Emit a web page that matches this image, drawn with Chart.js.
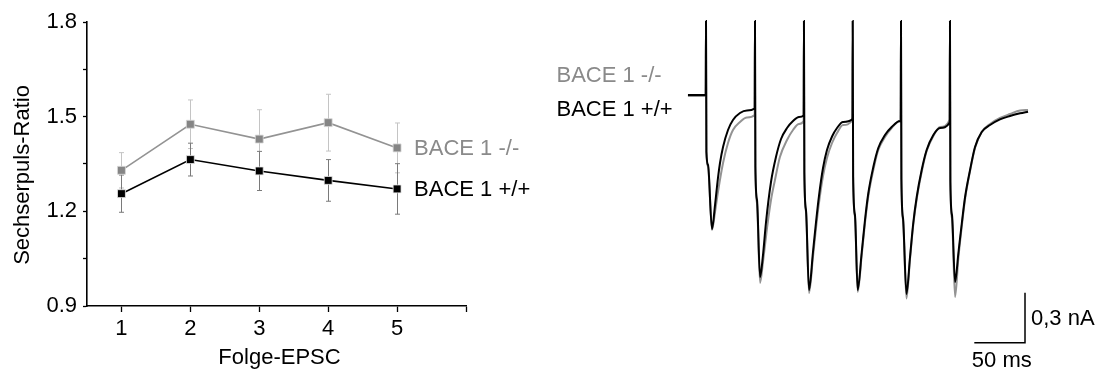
<!DOCTYPE html>
<html><head><meta charset="utf-8">
<script src="https://cdn.jsdelivr.net/npm/chart.js@4.4.1/dist/chart.umd.min.js"></script>
<style>
html,body{margin:0;padding:0;background:#fff;overflow:hidden}
#wrap{position:relative;width:1100px;height:371px}
#c1{position:absolute;left:0;top:0}
#c2{position:absolute;left:540px;top:0}
</style></head><body>
<div id="wrap"><canvas id="c1" width="540" height="371"></canvas><canvas id="c2" width="560" height="371"></canvas></div>
<script>
// ---------- left panel data ----------
const pulseNumbers = [1, 2, 3, 4, 5];
const koMean = [1.330, 1.476, 1.429, 1.481, 1.401];
const koErr  = [0.056, 0.077, 0.093, 0.090, 0.079];
const wtMean = [1.256, 1.364, 1.328, 1.298, 1.271];
const wtErr  = [0.059, 0.052, 0.062, 0.066, 0.080];
const yTickLabels = ['0.9', '1.2', '1.5', '1.8'];
const xTickLabels = ['1', '2', '3', '4', '5'];
const koLabel = 'BACE 1 -/-';
const wtLabel = 'BACE 1 +/+';
const xTitle = 'Folge-EPSC';
const yTitle = 'Sechserpuls-Ratio';

// ---------- right panel data (time in ms, current in nA) ----------
const wtTime = [-17.8, -0.3, 0, 0.4, 2.0, 5.9, 8.9, 11.8, 13.8, 16.8, 21.7, 26.6, 33.5, 40.4, 48.0,
 48.3, 48.7, 50.3, 53.3, 56.2, 59.2, 64.1, 69.0, 74.0, 79.9, 85.8, 91.7, 96.3,
 96.6, 97.0, 98.6, 101.6, 105.5, 108.5, 111.4, 115.4, 119.3, 124.3, 129.2, 135.1, 144.4,
 144.7, 145.1, 146.9, 149.6, 153.5, 156.8, 160.1, 165.0, 169.9, 176.5, 183.1, 191.3, 192.0,
 192.3, 192.7, 194.3, 197.7, 201.2, 204.4, 207.8, 212.7, 217.6, 224.2, 230.8, 240.3,
 240.6, 241.0, 242.6, 245.6, 248.9, 252.3, 255.5, 260.4, 265.3, 271.9, 280.1, 289.9, 299.8, 309.7, 317.6];
const wtCurrent = [0, 0, 0.444, -0.342, -0.42, -0.804, -0.66, -0.498, -0.408, -0.312, -0.21, -0.15, -0.108, -0.093, -0.081,
 0.444, -0.432, -0.63, -1.092, -0.96, -0.762, -0.522, -0.372, -0.264, -0.198, -0.156, -0.132, -0.123,
 0.444, -0.468, -0.69, -1.17, -0.942, -0.762, -0.606, -0.438, -0.33, -0.249, -0.198, -0.162, -0.144,
 0.444, -0.492, -0.72, -1.17, -0.948, -0.75, -0.588, -0.432, -0.318, -0.24, -0.192, -0.156, -0.16,
 0.444, -0.504, -0.738, -1.194, -0.972, -0.768, -0.612, -0.45, -0.33, -0.24, -0.198, -0.165,
 0.444, -0.522, -0.72, -1.122, -0.948, -0.768, -0.612, -0.45, -0.312, -0.222, -0.18, -0.146, -0.126, -0.11, -0.1];
const koTime = [-17.8, -0.3, 0, 0.4, 2.0, 5.9, 8.9, 11.8, 16.8, 21.7, 26.6, 33.5, 40.4, 48.0,
 48.3, 48.7, 50.3, 53.3, 56.2, 60.2, 64.1, 68.0, 72.9, 79.9, 85.8, 91.7, 96.3,
 96.6, 97.0, 98.6, 101.6, 105.5, 108.5, 111.4, 115.4, 119.3, 124.3, 129.2, 135.1, 144.4,
 144.7, 145.1, 146.9, 149.6, 153.5, 156.8, 160.1, 165.0, 169.9, 176.5, 183.1, 191.3, 192.0,
 192.3, 192.7, 194.3, 197.7, 201.2, 204.4, 207.8, 212.7, 217.6, 224.2, 230.8, 240.3,
 240.6, 241.0, 242.6, 245.6, 248.9, 252.3, 255.5, 260.4, 265.3, 271.9, 280.1, 289.9, 299.8, 309.7, 317.6];
const koCurrent = [-0.006, -0.006, 0.444, -0.342, -0.43, -0.81, -0.702, -0.582, -0.408, -0.288, -0.21, -0.162, -0.135, -0.12,
 0.444, -0.432, -0.65, -1.128, -1.002, -0.798, -0.63, -0.51, -0.372, -0.27, -0.21, -0.174, -0.156,
 0.444, -0.468, -0.70, -1.188, -0.972, -0.798, -0.648, -0.486, -0.378, -0.288, -0.228, -0.18, -0.15,
 0.444, -0.492, -0.73, -1.182, -0.966, -0.768, -0.606, -0.45, -0.33, -0.252, -0.198, -0.156, -0.156,
 0.444, -0.504, -0.75, -1.221, -0.984, -0.78, -0.624, -0.462, -0.336, -0.246, -0.192, -0.15,
 0.444, -0.522, -0.74, -1.212, -0.978, -0.786, -0.624, -0.456, -0.318, -0.222, -0.174, -0.138, -0.114, -0.093, -0.09];
const scaleBarTime = [264.6, 314.6, 314.6];
const scaleBarCurrent = [-1.486, -1.486, -1.186];
const scaleBarTimeLabel = '50 ms';
const scaleBarCurrentLabel = '0,3 nA';

// ---------- styling ----------
const FONT = "'Liberation Sans', Arial, Helvetica, sans-serif";
const GRAY = '#8a8a8a';
Chart.defaults.font.family = FONT;
Chart.defaults.color = '#000';

const zip = (xs, ys) => xs.map((x, i) => ({x, y: ys[i]}));

const errPlugin = {
  id: 'errbars',
  beforeDatasetsDraw(chart) {
    const {ctx, scales: {x, y}} = chart;
    [...chart.data.datasets].reverse().forEach((ds) => {
      if (!ds.err) return;
      ctx.save();
      ctx.strokeStyle = ds.errColor;
      ctx.lineWidth = 1;
      ds.data.forEach((p, j) => {
        const px = Math.round(x.getPixelForValue(p.x)) + 0.5;
        const y1 = y.getPixelForValue(p.y + ds.err[j]);
        const y2 = y.getPixelForValue(p.y - ds.err[j]);
        ctx.beginPath();
        ctx.moveTo(px, y1); ctx.lineTo(px, y2);
        ctx.moveTo(px - 2.5, y1); ctx.lineTo(px + 2.5, y1);
        ctx.moveTo(px - 2.5, y2); ctx.lineTo(px + 2.5, y2);
        ctx.stroke();
      });
      ctx.restore();
    });
  },
  afterDatasetsDraw(chart) {
    const {ctx} = chart;
    ctx.save();
    ctx.font = '22px ' + FONT;
    ctx.textBaseline = 'middle';
    ctx.textAlign = 'left';
    chart.data.datasets.forEach((ds, i) => {
      const meta = chart.getDatasetMeta(i);
      const last = meta.data[meta.data.length - 1];
      ctx.fillStyle = ds.labelColor;
      ctx.fillText(ds.label, last.x + 17, last.y + 1);
    });
    ctx.fillStyle = '#000';
    ctx.textAlign = 'center';
    ctx.fillText(xTitle, (chart.chartArea.left + chart.chartArea.right) / 2 + 3, 358);
    ctx.translate(23, 175);
    ctx.rotate(-Math.PI / 2);
    ctx.fillText(yTitle, 0, 0);
    ctx.restore();
  }
};

new Chart(document.getElementById('c1'), {
  type: 'line',
  data: {
    datasets: [
      {label: wtLabel, data: zip(pulseNumbers, wtMean), err: wtErr, errColor: '#7a7a7a', labelColor: '#000',
       borderColor: '#000', borderWidth: 1.6, pointStyle: 'rect', pointRadius: 5.6,
       pointBackgroundColor: '#000', pointBorderColor: '#e8e8e8', pointBorderWidth: 0.8, tension: 0},
      {label: koLabel, data: zip(pulseNumbers, koMean), err: koErr, errColor: '#c4c4c4', labelColor: GRAY,
       borderColor: '#939393', borderWidth: 1.6, pointStyle: 'rect', pointRadius: 5.6,
       pointBackgroundColor: '#858585', pointBorderColor: '#d8d8d8', pointBorderWidth: 0.8, tension: 0}
    ]
  },
  options: {
    responsive: false, animation: false, devicePixelRatio: 1,
    layout: {padding: {left: 0, top: 22, right: 74, bottom: 0}},
    plugins: {legend: {display: false}, tooltip: {enabled: false}},
    scales: {
      x: {
        type: 'linear', min: 0.5, max: 6,
        afterFit(s) { s.height = 65; },
        ticks: {stepSize: 1, includeBounds: false, padding: 4, font: {size: 22}, color: '#000', maxRotation: 0,
          callback: (v) => { const i = pulseNumbers.indexOf(Math.round(v)); return i >= 0 ? xTickLabels[i] : ''; }},
        grid: {display: true, drawOnChartArea: false, drawTicks: true, tickLength: 6, tickColor: '#000', tickWidth: 1.3},
        border: {display: true, color: '#000', width: 1.6}
      },
      y: {
        type: 'linear', min: 0.9, max: 1.8,
        afterFit(s) { s.width = 87; },
        ticks: {stepSize: 0.15, includeBounds: false, padding: 6, font: {size: 22}, color: '#000',
          callback: (v) => { const t = v.toFixed(1); const ok = Math.abs(v * 10 - Math.round(v * 10)) < 1e-6 && yTickLabels.includes(t); return ok ? t : ''; }},
        grid: {display: true, drawOnChartArea: false, drawTicks: true, tickLength: 4, tickColor: '#000', tickWidth: 1.3},
        border: {display: true, color: '#000', width: 1.6}
      }
    }
  },
  plugins: [errPlugin]
});

// ---------- right panel ----------
const traceLabels = {
  id: 'traceLabels',
  afterDatasetsDraw(chart) {
    const {ctx, scales: {x, y}} = chart;
    ctx.save();
    ctx.font = '22px ' + FONT;
    ctx.textBaseline = 'middle';
    ctx.textAlign = 'left';
    ctx.fillStyle = GRAY;
    ctx.fillText(koLabel, 16.5, 76);
    ctx.fillStyle = '#000';
    ctx.fillText(wtLabel, 16.5, 110);
    const bx = x.getPixelForValue(scaleBarTime[1]);
    const by0 = y.getPixelForValue(scaleBarCurrent[1]);
    const by1 = y.getPixelForValue(scaleBarCurrent[2]);
    ctx.fillText(scaleBarCurrentLabel, bx + 6, (by0 + by1) / 2 + 1);
    ctx.fillText(scaleBarTimeLabel, x.getPixelForValue(scaleBarTime[0]) - 2.5, by0 + 18);
    ctx.restore();
  }
};

const PX_PER_MS = 1.014, PX_PER_NA = 166.67, T0_PX = 166, BASE_PX = 95;
new Chart(document.getElementById('c2'), {
  type: 'line',
  data: {
    datasets: [
      {data: zip(scaleBarTime, scaleBarCurrent), borderColor: '#000', borderWidth: 1.5, pointRadius: 0, tension: 0},
      {data: zip(wtTime, wtCurrent), borderColor: '#000', borderWidth: 2, pointRadius: 0, cubicInterpolationMode: 'monotone'},
      {data: zip(koTime, koCurrent), borderColor: '#939393', borderWidth: 2, pointRadius: 0, cubicInterpolationMode: 'monotone'}
    ]
  },
  options: {
    responsive: false, animation: false, devicePixelRatio: 1,
    layout: {padding: 0},
    plugins: {legend: {display: false}, tooltip: {enabled: false}},
    scales: {
      x: {type: 'linear', display: false, min: -T0_PX / PX_PER_MS, max: (560 - T0_PX) / PX_PER_MS},
      y: {type: 'linear', display: false, min: (BASE_PX - 371) / PX_PER_NA, max: BASE_PX / PX_PER_NA}
    }
  },
  plugins: [traceLabels]
});
</script>
</body></html>
